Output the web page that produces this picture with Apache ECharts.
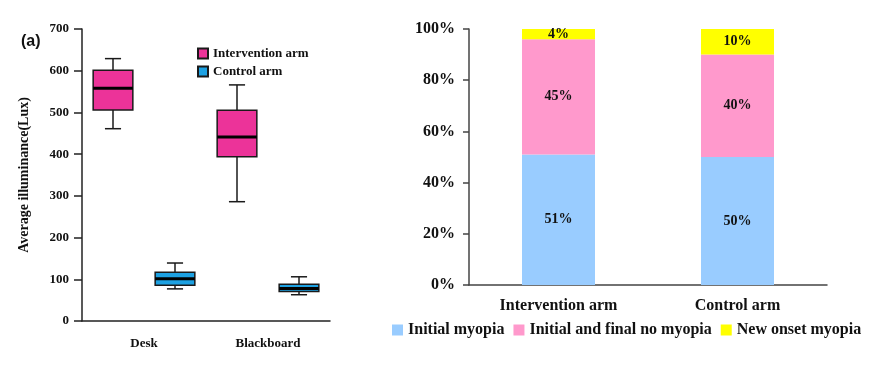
<!DOCTYPE html>
<html><head><meta charset="utf-8">
<script src="https://cdn.jsdelivr.net/npm/echarts@6/dist/echarts.min.js"></script>
<style>html,body{margin:0;padding:0;background:#fff}#c{width:869px;height:367px}</style>
</head><body><div id="c"></div>
<script>
// ---- Left panel: box plots (min, Q1, median, Q3, max) ----
const boxCategories = ['Desk', 'Blackboard'];
const boxSeriesNames = ['Intervention arm', 'Control arm'];
const interventionBox = [[461, 506, 558, 601, 629], [286, 394, 441, 505, 566]];
const controlBox = [[77, 86, 101, 117, 139], [63, 71, 78, 88, 106]];
const boxAxisMin = 0, boxAxisMax = 700, boxAxisStep = 100;

// ---- Right panel: stacked percentages ----
const barCategories = ['Intervention arm', 'Control arm'];
const barSeriesNames = ['Initial myopia', 'Initial and final no myopia', 'New onset myopia'];
const initialMyopia = [51, 50];
const noMyopia = [45, 40];
const newOnsetMyopia = [4, 10];
const pctMin = 0, pctMax = 100, pctStep = 20;

const SERIF = "'Liberation Serif','Times New Roman',serif";
const chart = echarts.init(document.getElementById('c'), null, {renderer: 'canvas'});

function boxSeries(name, color, rows, side) {
  return {
    type: 'custom', name: name, xAxisIndex: 0, yAxisIndex: 0,
    itemStyle: {color: color, borderColor: '#1a1a1a', borderWidth: 1.3},
    encode: {x: 0, y: [1, 2, 3, 4, 5]},
    data: rows.map(function (r, i) { return [i].concat(r); }),
    renderItem: function (params, api) {
      const band = api.size([1, 0])[0];
      const c = api.value(0);
      const cx = api.coord([c, 0])[0] + side * band * 0.25;
      const Y = function (k) { return api.coord([c, api.value(k)])[1]; };
      const yMin = Y(1), yQ1 = Y(2), yMed = Y(3), yQ3 = Y(4), yMax = Y(5);
      const bw = band * 0.32, cw = band * 0.13;
      const ln = {stroke: '#1a1a1a', lineWidth: 1.5};
      return {type: 'group', children: [
        {type: 'line', shape: {x1: cx, y1: yMax, x2: cx, y2: yQ3}, style: ln},
        {type: 'line', shape: {x1: cx, y1: yQ1, x2: cx, y2: yMin}, style: ln},
        {type: 'line', shape: {x1: cx - cw / 2, y1: yMax, x2: cx + cw / 2, y2: yMax}, style: ln},
        {type: 'line', shape: {x1: cx - cw / 2, y1: yMin, x2: cx + cw / 2, y2: yMin}, style: ln},
        {type: 'rect', shape: {x: cx - bw / 2, y: yQ3, width: bw, height: yQ1 - yQ3},
          style: {fill: color, stroke: '#1a1a1a', lineWidth: 1.5}},
        {type: 'line', shape: {x1: cx - bw / 2, y1: yMed, x2: cx + bw / 2, y2: yMed},
          style: {stroke: '#000', lineWidth: 3}}
      ]};
    }
  };
}

const barColors = ['#99CCFF', '#FF99CC', '#FFFF00'];
const barData = [initialMyopia, noMyopia, newOnsetMyopia];

const option = {
  animation: false,
  backgroundColor: '#fff',
  graphic: [{type: 'text', left: 21, top: 34,
    style: {text: '(a)', font: "bold 16px 'Liberation Sans',Arial,sans-serif", fill: '#111'}}],
  grid: [
    {left: 82, top: 29, width: 248, height: 292},
    {left: 469, top: 29, width: 358, height: 256}
  ],
  legend: [
    {orient: 'vertical', left: 197, top: 47, padding: 0, itemWidth: 10, itemHeight: 10, itemGap: 5,
      icon: 'rect', data: boxSeriesNames,
      textStyle: {fontFamily: SERIF, fontWeight: 'bold', fontSize: 13, color: '#111'}},
    {orient: 'horizontal', left: 392, top: 322, padding: 0, width: 476, itemWidth: 11, itemHeight: 11, itemGap: 9,
      icon: 'rect', data: barSeriesNames,
      textStyle: {fontFamily: SERIF, fontWeight: 'bold', fontSize: 16, color: '#111'}}
  ],
  xAxis: [
    {type: 'category', gridIndex: 0, data: boxCategories,
      axisLine: {lineStyle: {color: '#222', width: 1.5}},
      axisTick: {alignWithLabel: true, length: 8, lineStyle: {color: '#222', width: 1.5}},
      axisLabel: {margin: 16, fontFamily: SERIF, fontWeight: 'bold', fontSize: 13, color: '#111'},
      splitLine: {show: false}},
    {type: 'category', gridIndex: 1, data: barCategories,
      axisLine: {lineStyle: {color: '#444', width: 1.5}},
      axisTick: {length: 6, lineStyle: {color: '#444', width: 1.5}},
      axisLabel: {margin: 13, fontFamily: SERIF, fontWeight: 'bold', fontSize: 16, color: '#111'},
      splitLine: {show: false}}
  ],
  yAxis: [
    {type: 'value', gridIndex: 0, min: boxAxisMin, max: boxAxisMax, interval: boxAxisStep,
      name: 'Average illuminance(Lux)', nameLocation: 'middle', nameGap: 51,
      nameTextStyle: {fontFamily: SERIF, fontWeight: 'bold', fontSize: 14, color: '#111'},
      axisLine: {show: true, lineStyle: {color: '#222', width: 1.5}},
      axisTick: {show: true, length: 8, lineStyle: {color: '#222', width: 1.5}},
      axisLabel: {margin: 13, fontFamily: SERIF, fontWeight: 'bold', fontSize: 13, color: '#111'},
      splitLine: {show: false}},
    {type: 'value', gridIndex: 1, min: pctMin, max: pctMax, interval: pctStep,
      axisLine: {show: true, lineStyle: {color: '#444', width: 1.5}},
      axisTick: {show: true, length: 6, lineStyle: {color: '#444', width: 1.5}},
      axisLabel: {margin: 14, formatter: '{value}%', fontFamily: SERIF, fontWeight: 'bold', fontSize: 16, color: '#111'},
      splitLine: {show: false}}
  ],
  series: [
    boxSeries(boxSeriesNames[0], '#EC3399', interventionBox, -1),
    boxSeries(boxSeriesNames[1], '#1DA1E2', controlBox, 1)
  ].concat(barSeriesNames.map(function (n, i) {
    return {
      type: 'bar', name: n, stack: 'total', xAxisIndex: 1, yAxisIndex: 1,
      barWidth: 73, data: barData[i],
      itemStyle: {color: barColors[i]},
      label: {show: true, position: 'inside', formatter: '{c}%',
        fontFamily: SERIF, fontWeight: 'bold', fontSize: 14, color: '#111',
        textBorderWidth: 0}
    };
  }))
};
chart.setOption(option);
</script></body></html>
